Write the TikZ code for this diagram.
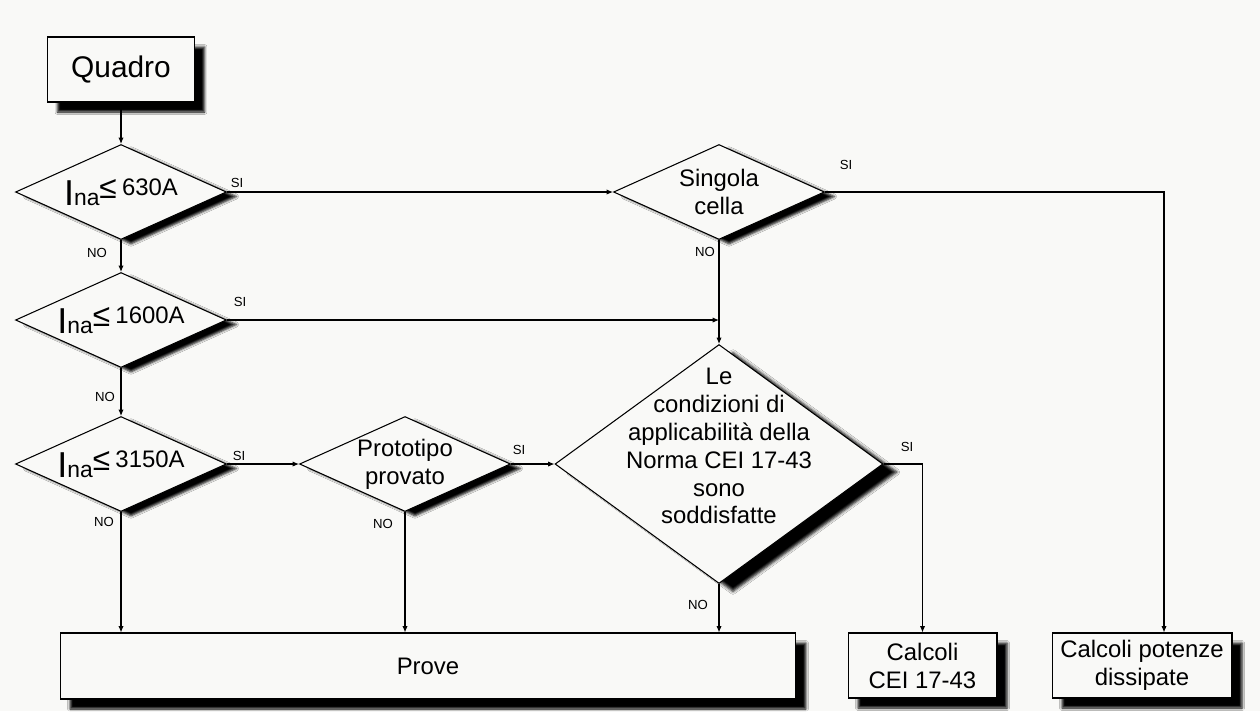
\documentclass[tikz,border=0pt]{standalone}
\usepackage{fontspec}
\setmainfont{Liberation Sans}
\usetikzlibrary{arrows.meta,shapes.geometric,shadows.blur}
\definecolor{paper}{RGB}{249,249,247}
\newcommand{\Ina}[1]{{\fontsize{20.5pt}{21pt}\selectfont I}{\fontsize{13pt}{15pt}\selectfont na}%
  \raisebox{4pt}{\fontsize{18pt}{21pt}\selectfont ≤}%
  \raisebox{5.7pt}{\fontsize{13.6pt}{15pt}\selectfont\hspace{3pt}#1}}

\begin{document}
\begin{tikzpicture}[
  x=0.02cm, y=-0.02cm,
  box/.style={draw, fill=paper, line width=0.6pt, align=center, inner sep=0pt,
              font=\fontsize{13.6pt}{15.9pt}\selectfont,
              blur shadow={shadow xshift=0.2cm, shadow yshift=-0.2cm,
                           shadow blur radius=0.05cm, shadow opacity=100}},
  choice/.style={diamond, draw, fill=paper, line width=0.6pt, inner sep=0pt,
                 minimum width=4.22cm, minimum height=1.9cm},
  dshade/.style={blur shadow={shadow xshift=0.2cm, shadow yshift=-0.09cm,
                              shadow blur radius=0.05cm, shadow opacity=100}},
  dtext/.style={align=center, inner sep=0pt, font=\fontsize{13.6pt}{15.9pt}\selectfont},
  lbl/.style={inner sep=0pt, font=\fontsize{7.5pt}{9pt}\selectfont},
  arrow/.style={-{Latex[length=3.6pt,width=3pt]}, line width=0.6pt}
]
\fill[paper] (0,0) rectangle (1260,711);
% nodes
\node[box, minimum width=2.94cm, minimum height=1.3cm,
      font=\fontsize{17pt}{20pt}\selectfont] (quadro) at (121,69.5) {Quadro};
\node[choice, dshade, label={[dtext]center:\Ina{630A}}] (ina1) at (121,192) {};
\node[choice, dshade, label={[dtext]center:\Ina{1600A}}] (ina2) at (121,320) {};
\node[choice, dshade, label={[dtext]center:\Ina{3150A}}] (ina3) at (121,464) {};
\node[choice, dshade, label={[dtext]center:{Prototipo\\provato}}] (proto) at (405,464) {};
\node[choice, dshade, label={[dtext]center:{Singola\\cella}}] (singola) at (719,192) {};
\node[choice, minimum width=6.56cm, minimum height=4.78cm,
      blur shadow={shadow xshift=0.28cm, shadow yshift=-0.16cm,
                   shadow blur radius=0.06cm, shadow opacity=100},
      label={[dtext, yshift=0.36cm]center:{Le\\condizioni di\\applicabilità della\\Norma CEI 17-43\\sono\\soddisfatte}}] (norma) at (719,464) {};
\node[box, minimum width=14.72cm, minimum height=1.32cm] (prove) at (428,666) {Prove};
\node[box, minimum width=2.98cm, minimum height=1.3cm] (cei) at (922.5,665.5) {Calcoli\\CEI 17-43};
\node[box, minimum width=3.6cm, minimum height=1.3cm] (pot) at (1142,665.5) {Calcoli potenze\\dissipate};
% branch labels
\node[lbl] (si1) at (237,183) {SI};
\node[lbl] (no1) at (97,253) {NO};
\node[lbl] (si2) at (240,302) {SI};
\node[lbl] (no2) at (105,397) {NO};
\node[lbl] (si3) at (239,456) {SI};
\node[lbl] (no3) at (104,522) {NO};
\node[lbl] (si4) at (519,450) {SI};
\node[lbl] (no4) at (383,524) {NO};
\node[lbl] (si5) at (846,165) {SI};
\node[lbl] (no5) at (705,252) {NO};
\node[lbl] (si6) at (907,447) {SI};
\node[lbl] (no6) at (698,605) {NO};
% connectors
\draw[arrow] (quadro) -- (ina1);
\draw[arrow] (ina1) -- (ina2);
\draw[arrow] (ina2) -- (ina3);
\draw[arrow] (ina3.south) -- (ina3.south |- prove.north);
\draw[arrow] (ina1) -- (singola);
\draw[arrow] (ina2.east) -- (ina2.east -| singola.south);
\draw[arrow] (singola) -- (norma);
\draw[arrow] (ina3) -- (proto);
\draw[arrow] (proto) -- (norma);
\draw[arrow] (proto.south) -- (proto.south |- prove.north);
\draw[arrow] (norma.south) -- (norma.south |- prove.north);
\draw[arrow] (norma.east) -| (cei.north);
\draw[arrow] (singola.east) -| ([xshift=0.44cm]pot.north);
\end{tikzpicture}
\end{document}
